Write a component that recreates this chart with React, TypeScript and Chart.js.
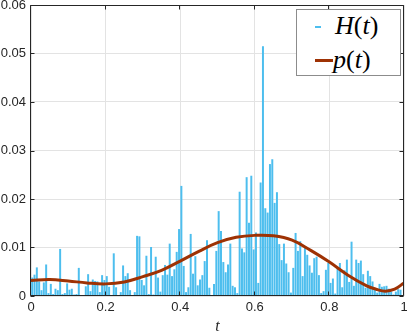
import { useEffect, useRef } from 'react';
import { Chart, registerables } from 'chart.js';

Chart.register(...registerables);

// Histogram H(t): probability per bin, 160 equal bins on [0, 1]
const histValues: number[] = [
  0.0038, 0.0044, 0.0059, 0.0030, 0.0012, 0.0028, 0.0065, 0.0006, 0.0025, 0.0004,
  0.0015, 0.0012, 0.0097, 0.0004, 0.0006, 0.0026, 0.0013, 0.0015, 0.0003, 0.0004,
  0.0058, 0.0000, 0.0001, 0.0020, 0.0045, 0.0010, 0.0034, 0.0031, 0.0030, 0.0008,
  0.0043, 0.0033, 0.0041, 0.0019, 0.0001, 0.0088, 0.0018, 0.0000, 0.0008, 0.0063,
  0.0041, 0.0047, 0.0012, 0.0000, 0.0008, 0.0124, 0.0123, 0.0033, 0.0022, 0.0083,
  0.0004, 0.0101, 0.0003, 0.0081, 0.0038, 0.0009, 0.0043, 0.0064, 0.0044, 0.0108,
  0.0041, 0.0055, 0.0091, 0.0138, 0.0227, 0.0062, 0.0008, 0.0018, 0.0128, 0.0046,
  0.0082, 0.0022, 0.0034, 0.0043, 0.0072, 0.0115, 0.0017, 0.0000, 0.0025, 0.0093,
  0.0175, 0.0134, 0.0070, 0.0049, 0.0065, 0.0108, 0.0021, 0.0018, 0.0006, 0.0215,
  0.0098, 0.0090, 0.0245, 0.0151, 0.0248, 0.0096, 0.0131, 0.0027, 0.0234, 0.0515,
  0.0181, 0.0172, 0.0272, 0.0282, 0.0192, 0.0214, 0.0107, 0.0074, 0.0108, 0.0067,
  0.0049, 0.0007, 0.0058, 0.0130, 0.0093, 0.0113, 0.0041, 0.0099, 0.0085, 0.0063,
  0.0048, 0.0078, 0.0081, 0.0043, 0.0006, 0.0010, 0.0054, 0.0068, 0.0027, 0.0036,
  0.0005, 0.0056, 0.0068, 0.0018, 0.0053, 0.0075, 0.0029, 0.0112, 0.0021, 0.0075,
  0.0068, 0.0073, 0.0045, 0.0017, 0.0052, 0.0041, 0.0030, 0.0016, 0.0007, 0.0025,
  0.0019, 0.0020, 0.0021, 0.0015, 0.0009, 0.0003, 0.0009, 0.0014, 0.0013, 0.0002,
];

// Smooth density p(t)
const curveT: number[] = [
  0, 0.05, 0.1, 0.15, 0.2, 0.25, 0.3, 0.35, 0.4, 0.45, 0.5, 0.55, 0.6, 0.65,
  0.7, 0.75, 0.8, 0.85, 0.9, 0.925, 0.95, 0.975, 1,
];
const curveP: number[] = [
  0.0032, 0.0034, 0.0031, 0.0027, 0.0025, 0.0029, 0.0040, 0.0053, 0.0072, 0.0092,
  0.0110, 0.0121, 0.0125, 0.0124, 0.0115, 0.0094, 0.0070, 0.0043, 0.0021, 0.0014,
  0.0010, 0.0014, 0.0027,
];

const xTickValues: number[] = [0, 0.2, 0.4, 0.6, 0.8, 1];
const xTickLabels: string[] = ['0', '0.2', '0.4', '0.6', '0.8', '1'];
const yTickValues: number[] = [0, 0.01, 0.02, 0.03, 0.04, 0.05, 0.06];
const yTickLabels: string[] = ['0', '0.01', '0.02', '0.03', '0.04', '0.05', '0.06'];

const AXIS_COLOR = '#262626';
const GRID_COLOR = '#e3e3e3';
const BAR_COLOR = '#4DBEEE';
const CURVE_COLOR = '#9E3204';

export default function App() {
  const ref = useRef<HTMLCanvasElement>(null);

  useEffect(() => {
    if (!ref.current) return;
    const binW = 1 / histValues.length;
    const histData = histValues.map((v, i) => ({ x: (i + 0.5) * binW, y: v }));
    const curveData = curveT.map((t, i) => ({ x: t, y: curveP[i] }));

    const framePlugin = {
      id: 'frame',
      afterDatasetsDraw(chart: any) {
        const { ctx, chartArea } = chart;
        const { left, right, top, bottom } = chartArea;
        const xs = chart.scales.x;
        const ys = chart.scales.y;
        const L = Math.round(left) - 0.5;
        const R = Math.round(right) - 0.5;
        const T = Math.round(top) + 0.5;
        const B = Math.round(bottom) - 0.5;
        ctx.save();
        ctx.strokeStyle = AXIS_COLOR;
        ctx.lineWidth = 1;
        ctx.beginPath();
        ctx.moveTo(L, T);
        ctx.lineTo(R, T);
        ctx.lineTo(R, B);
        ctx.lineTo(L, B);
        ctx.closePath();
        const tl = 4;
        xTickValues.forEach((v) => {
          const p = Math.round(xs.getPixelForValue(v)) - 0.5;
          ctx.moveTo(p, B);
          ctx.lineTo(p, B - tl);
          ctx.moveTo(p, T);
          ctx.lineTo(p, T + tl);
        });
        yTickValues.forEach((v) => {
          const p = Math.round(ys.getPixelForValue(v)) + 0.5;
          ctx.moveTo(L, p);
          ctx.lineTo(L + tl, p);
          ctx.moveTo(R, p);
          ctx.lineTo(R - tl, p);
        });
        ctx.stroke();
        ctx.restore();
      },
    };

    const tickFont = { family: "'Liberation Sans', Arial, sans-serif", size: 13 };

    const chart = new Chart(ref.current, {
      type: 'bar',
      data: {
        datasets: [
          {
            type: 'line',
            label: 'p(t)',
            data: curveData,
            borderColor: CURVE_COLOR,
            backgroundColor: CURVE_COLOR,
            borderWidth: 3,
            pointRadius: 0,
            tension: 0.4,
            fill: false,
            order: 0,
          } as any,
          {
            type: 'bar',
            label: 'H(t)',
            data: histData,
            backgroundColor: BAR_COLOR,
            borderWidth: 0,
            barPercentage: 0.85,
            categoryPercentage: 1,
            order: 1,
          } as any,
        ],
      },
      options: {
        animation: false,
        responsive: false,
        maintainAspectRatio: false,
        layout: { padding: { top: 5, right: 3, left: 0, bottom: 0 } },
        plugins: { legend: { display: false }, tooltip: { enabled: false } },
        scales: {
          x: {
            type: 'linear',
            min: 0,
            max: 1,
            offset: false,
            grid: { offset: false, color: GRID_COLOR, drawTicks: false },
            border: { display: false },
            afterBuildTicks: (s: any) => {
              s.ticks = xTickValues.map((v) => ({ value: v }));
            },
            ticks: {
              padding: 4,
              maxRotation: 0,
              autoSkip: false,
              color: AXIS_COLOR,
              font: tickFont,
              callback: (_v: any, i: number) => xTickLabels[i],
            },
            title: {
              display: true,
              text: 't',
              color: AXIS_COLOR,
              font: {
                family: "'Liberation Serif', 'DejaVu Serif', serif",
                style: 'italic',
                size: 16,
                lineHeight: 0.7,
              },
              padding: { top: 0, bottom: 0 },
            },
            afterFit: (s: any) => {
              s.height = 36;
              s.paddingLeft = 0;
              s.paddingRight = 0;
            },
          } as any,
          y: {
            type: 'linear',
            min: 0,
            max: 0.06,
            grid: { color: GRID_COLOR, drawTicks: false },
            border: { display: false },
            afterBuildTicks: (s: any) => {
              s.ticks = yTickValues.map((v) => ({ value: v }));
            },
            ticks: {
              padding: 5,
              autoSkip: false,
              color: AXIS_COLOR,
              font: tickFont,
              callback: (_v: any, i: number) => yTickLabels[i],
            },
            afterFit: (s: any) => {
              s.width = 31;
              s.paddingTop = 0;
              s.paddingBottom = 0;
            },
          } as any,
        },
      },
      plugins: [framePlugin],
    });
    return () => chart.destroy();
  }, []);

  const serif = "'Liberation Serif', 'DejaVu Serif', serif";
  return (
    <div style={{ position: 'fixed', left: 0, top: 0, width: 407, height: 332, background: '#fff' }}>
      <canvas ref={ref} width={407} height={332} style={{ display: 'block', width: 407, height: 332 }} />
      <div
        style={{
          position: 'absolute',
          left: 296,
          top: 9,
          width: 105,
          height: 67,
          boxSizing: 'border-box',
          border: '1px solid #8c8c8c',
          background: '#fff',
          fontFamily: serif,
          fontSize: 26,
          color: '#000',
        }}
      >
        <div style={{ position: 'absolute', left: 18, top: 16, width: 6, height: 2, background: BAR_COLOR }} />
        <div style={{ position: 'absolute', left: 38, top: 1, lineHeight: '30px', whiteSpace: 'nowrap' }}>
          <i>H</i>(<i>t</i>)
        </div>
        <div style={{ position: 'absolute', left: 18, top: 49, width: 18, height: 3, background: CURVE_COLOR }} />
        <div style={{ position: 'absolute', left: 36, top: 35, lineHeight: '30px', whiteSpace: 'nowrap' }}>
          <i>p</i>(<i>t</i>)
        </div>
      </div>
    </div>
  );
}
